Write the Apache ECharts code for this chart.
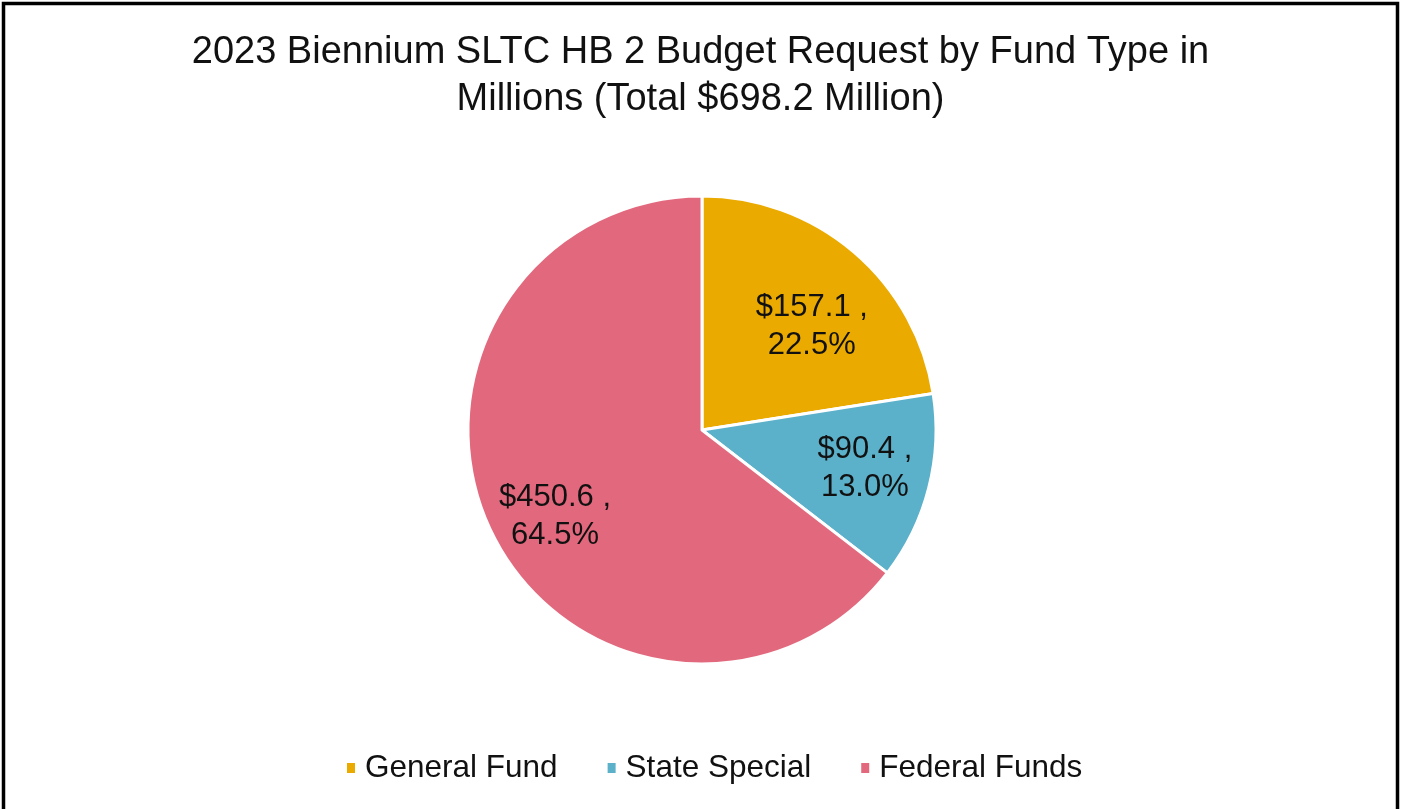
<!DOCTYPE html>
<html>
<head>
<meta charset="utf-8">
<title>2023 Biennium SLTC HB 2 Budget Request by Fund Type</title>
<script src="https://cdn.jsdelivr.net/npm/echarts@6/dist/echarts.min.js"></script>
<style>
  html, body { margin: 0; padding: 0; background: #ffffff; }
  #chart { width: 1401px; height: 809px; }
</style>
</head>
<body>
<div id="chart"></div>
<script>
// Fund types and their HB 2 request amounts (millions of dollars)
const fundNames = ['General Fund', 'State Special', 'Federal Funds'];
const fundValues = [157.1, 90.4, 450.6];
const fundColors = ['#EAAA00', '#5BB0CA', '#E2697D'];
const titleText = '2023 Biennium SLTC HB 2 Budget Request by Fund Type in\nMillions (Total $698.2 Million)';

const FONT = '"Liberation Sans", Arial, sans-serif';

// small nudges for the slice labels, in pixels
const labelNudge = [[2, 23], [2, -3], [2, 13]];

const pieData = fundNames.map((name, i) => ({
  name: name,
  value: fundValues[i],
  itemStyle: { color: fundColors[i] }
}));

const chart = echarts.init(document.getElementById('chart'), null, { renderer: 'canvas' });

chart.setOption({
  backgroundColor: '#ffffff',
  animation: false,
  title: {
    text: titleText,
    left: 'center',
    top: 24,
    textStyle: {
      fontFamily: FONT,
      fontSize: 38,
      fontWeight: 'normal',
      color: '#111111',
      lineHeight: 47
    }
  },
  legend: {
    data: fundNames,
    bottom: 20,
    left: 340,
    icon: 'rect',
    itemWidth: 10,
    itemHeight: 12,
    itemGap: 48,
    textStyle: {
      fontFamily: FONT,
      fontSize: 31.5,
      color: '#111111',
      padding: [0, 0, 0, 4]
    }
  },
  graphic: [{
    type: 'rect',
    silent: true,
    shape: { x: 3.5, y: 3.5, width: 1394, height: 840 },
    style: { fill: 'none', stroke: '#000000', lineWidth: 3.5 }
  }],
  series: [
    {
      // visible pie
      type: 'pie',
      center: [702, 430],
      radius: [0, 234],
      startAngle: 90,
      clockwise: true,
      percentPrecision: 1,
      itemStyle: { borderColor: '#ffffff', borderWidth: 3 },
      label: { show: false },
      labelLine: { show: false },
      emphasis: { scale: false },
      data: pieData
    },
    {
      // transparent ring that carries the value labels a bit further out
      type: 'pie',
      center: [702, 430],
      radius: [100, 226],
      startAngle: 90,
      clockwise: true,
      silent: true,
      percentPrecision: 1,
      itemStyle: { color: 'rgba(0,0,0,0)', borderWidth: 0 },
      label: {
        show: true,
        position: 'inside',
        fontFamily: FONT,
        fontSize: 31,
        lineHeight: 38,
        color: '#111111',
        align: 'center',
        formatter: p => '$' + p.value.toFixed(1) + ' ,\n' + p.percent.toFixed(1) + '%'
      },
      labelLine: { show: false },
      emphasis: { disabled: true },
      data: fundNames.map((name, i) => ({
        name: name,
        value: fundValues[i],
        label: { offset: labelNudge[i] }
      }))
    }
  ]
});
</script>
</body>
</html>
